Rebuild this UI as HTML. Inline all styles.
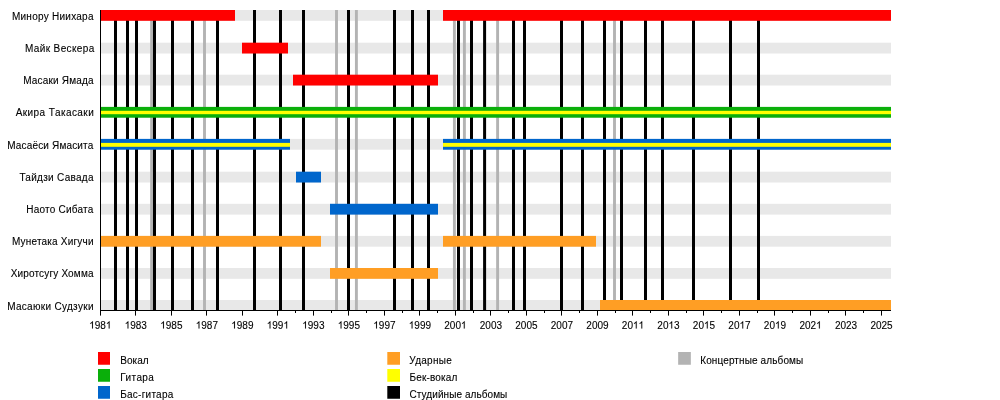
<!DOCTYPE html><html><head><meta charset="utf-8"><style>html,body{margin:0;padding:0;background:#fff}svg{display:block;will-change:transform;transform:translateZ(0)}text{font-family:"Liberation Sans",sans-serif;font-size:10px;fill:#000;stroke:#000;stroke-width:0.1px}</style></head><body>
<svg width="1000" height="400" viewBox="0 0 1000 400">
<rect width="1000" height="400" fill="#fff"/>
<rect x="100" y="10" width="791" height="10.8" fill="#e8e8e8"/>
<rect x="100" y="42.7" width="791" height="10.8" fill="#e8e8e8"/>
<rect x="100" y="74.7" width="791" height="10.8" fill="#e8e8e8"/>
<rect x="100" y="106.9" width="791" height="10.8" fill="#e8e8e8"/>
<rect x="100" y="138.9" width="791" height="10.8" fill="#e8e8e8"/>
<rect x="100" y="171.7" width="791" height="10.8" fill="#e8e8e8"/>
<rect x="100" y="203.8" width="791" height="10.8" fill="#e8e8e8"/>
<rect x="100" y="235.9" width="791" height="10.8" fill="#e8e8e8"/>
<rect x="100" y="268.0" width="791" height="10.8" fill="#e8e8e8"/>
<rect x="100" y="300" width="791" height="10" fill="#e8e8e8"/>
<rect x="150.15" y="10" width="2.9" height="300" fill="#b3b3b3"/>
<rect x="203.05" y="10" width="2.9" height="300" fill="#b3b3b3"/>
<rect x="335.05" y="10" width="2.9" height="300" fill="#b3b3b3"/>
<rect x="354.95" y="10" width="2.9" height="300" fill="#b3b3b3"/>
<rect x="452.95" y="10" width="2.9" height="300" fill="#b3b3b3"/>
<rect x="462.95" y="10" width="2.9" height="300" fill="#b3b3b3"/>
<rect x="496.15" y="10" width="2.9" height="300" fill="#b3b3b3"/>
<rect x="613.05" y="10" width="2.9" height="300" fill="#b3b3b3"/>
<rect x="114.00" y="10" width="3" height="300" fill="#000"/>
<rect x="126.00" y="10" width="3" height="300" fill="#000"/>
<rect x="135.00" y="10" width="3" height="300" fill="#000"/>
<rect x="153.00" y="10" width="3" height="300" fill="#000"/>
<rect x="171.00" y="10" width="3" height="300" fill="#000"/>
<rect x="191.00" y="10" width="3" height="300" fill="#000"/>
<rect x="216.00" y="10" width="3" height="300" fill="#000"/>
<rect x="253.00" y="10" width="3" height="300" fill="#000"/>
<rect x="279.00" y="10" width="3" height="300" fill="#000"/>
<rect x="302.00" y="10" width="3" height="300" fill="#000"/>
<rect x="347.00" y="10" width="3" height="300" fill="#000"/>
<rect x="393.00" y="10" width="3" height="300" fill="#000"/>
<rect x="411.00" y="10" width="3" height="300" fill="#000"/>
<rect x="427.00" y="10" width="3" height="300" fill="#000"/>
<rect x="457.00" y="10" width="3" height="300" fill="#000"/>
<rect x="470.00" y="10" width="3" height="300" fill="#000"/>
<rect x="483.10" y="10" width="3" height="300" fill="#000"/>
<rect x="512.00" y="10" width="3" height="300" fill="#000"/>
<rect x="523.00" y="10" width="3" height="300" fill="#000"/>
<rect x="560.00" y="10" width="3" height="300" fill="#000"/>
<rect x="581.00" y="10" width="3" height="300" fill="#000"/>
<rect x="603.00" y="10" width="3" height="300" fill="#000"/>
<rect x="620.00" y="10" width="3" height="300" fill="#000"/>
<rect x="644.00" y="10" width="3" height="300" fill="#000"/>
<rect x="661.00" y="10" width="3" height="300" fill="#000"/>
<rect x="692.00" y="10" width="3" height="300" fill="#000"/>
<rect x="729.00" y="10" width="3" height="300" fill="#000"/>
<rect x="757.00" y="10" width="3" height="300" fill="#000"/>
<rect x="100" y="10" width="135" height="10.8" fill="#ff0000"/>
<rect x="443" y="10" width="448" height="10.8" fill="#ff0000"/>
<rect x="242" y="42.7" width="46" height="10.8" fill="#ff0000"/>
<rect x="293" y="74.7" width="145" height="10.8" fill="#ff0000"/>
<rect x="100" y="106.9" width="791" height="10.8" fill="#0aaf0a"/>
<rect x="100" y="138.9" width="190" height="10.8" fill="#0066cc"/>
<rect x="443" y="138.9" width="448" height="10.8" fill="#0066cc"/>
<rect x="296" y="171.7" width="25" height="10.8" fill="#0066cc"/>
<rect x="330" y="203.8" width="108" height="10.8" fill="#0066cc"/>
<rect x="100" y="235.9" width="221" height="10.8" fill="#ff9e24"/>
<rect x="443" y="235.9" width="153" height="10.8" fill="#ff9e24"/>
<rect x="330" y="268.0" width="108" height="10.8" fill="#ff9e24"/>
<rect x="600" y="300" width="291" height="10" fill="#ff9e24"/>
<rect x="100" y="110.8" width="791" height="3.4" fill="#ffff00"/>
<rect x="100" y="142.9" width="190" height="3.9" fill="#ffff00"/>
<rect x="443" y="142.9" width="448" height="3.9" fill="#ffff00"/>
<rect x="100" y="10" width="1" height="301" fill="#000"/>
<rect x="100" y="310" width="791" height="1" fill="#000"/>
<rect x="100" y="310" width="1" height="5.6" fill="#000"/>
<path transform="translate(89.18,328.5) scale(0.0048828,-0.0048828)" d="M763 0H583V1147Q518 1085 412.5 1023T223 930V1104Q373 1174.5 485.5 1275T644 1470H763Z" fill="#000" stroke="#000" stroke-width="20"/>
<text x="94.74" y="328.5">9</text>
<text x="100.30" y="328.5">8</text>
<path transform="translate(105.86,328.5) scale(0.0048828,-0.0048828)" d="M763 0H583V1147Q518 1085 412.5 1023T223 930V1104Q373 1174.5 485.5 1275T644 1470H763Z" fill="#000" stroke="#000" stroke-width="20"/>
<rect x="135" y="310" width="1" height="5.6" fill="#000"/>
<path transform="translate(124.69,328.5) scale(0.0048828,-0.0048828)" d="M763 0H583V1147Q518 1085 412.5 1023T223 930V1104Q373 1174.5 485.5 1275T644 1470H763Z" fill="#000" stroke="#000" stroke-width="20"/>
<text x="130.25" y="328.5">9</text>
<text x="135.81" y="328.5">8</text>
<text x="141.37" y="328.5">3</text>
<rect x="171" y="310" width="1" height="5.6" fill="#000"/>
<path transform="translate(160.20,328.5) scale(0.0048828,-0.0048828)" d="M763 0H583V1147Q518 1085 412.5 1023T223 930V1104Q373 1174.5 485.5 1275T644 1470H763Z" fill="#000" stroke="#000" stroke-width="20"/>
<text x="165.76" y="328.5">9</text>
<text x="171.32" y="328.5">8</text>
<text x="176.88" y="328.5">5</text>
<rect x="206" y="310" width="1" height="5.6" fill="#000"/>
<path transform="translate(195.71,328.5) scale(0.0048828,-0.0048828)" d="M763 0H583V1147Q518 1085 412.5 1023T223 930V1104Q373 1174.5 485.5 1275T644 1470H763Z" fill="#000" stroke="#000" stroke-width="20"/>
<text x="201.27" y="328.5">9</text>
<text x="206.83" y="328.5">8</text>
<text x="212.39" y="328.5">7</text>
<rect x="242" y="310" width="1" height="5.6" fill="#000"/>
<path transform="translate(231.22,328.5) scale(0.0048828,-0.0048828)" d="M763 0H583V1147Q518 1085 412.5 1023T223 930V1104Q373 1174.5 485.5 1275T644 1470H763Z" fill="#000" stroke="#000" stroke-width="20"/>
<text x="236.78" y="328.5">9</text>
<text x="242.34" y="328.5">8</text>
<text x="247.90" y="328.5">9</text>
<rect x="277" y="310" width="1" height="5.6" fill="#000"/>
<path transform="translate(266.73,328.5) scale(0.0048828,-0.0048828)" d="M763 0H583V1147Q518 1085 412.5 1023T223 930V1104Q373 1174.5 485.5 1275T644 1470H763Z" fill="#000" stroke="#000" stroke-width="20"/>
<text x="272.29" y="328.5">9</text>
<text x="277.85" y="328.5">9</text>
<path transform="translate(283.41,328.5) scale(0.0048828,-0.0048828)" d="M763 0H583V1147Q518 1085 412.5 1023T223 930V1104Q373 1174.5 485.5 1275T644 1470H763Z" fill="#000" stroke="#000" stroke-width="20"/>
<rect x="295" y="310" width="1" height="3" fill="#000"/>
<rect x="313" y="310" width="1" height="5.6" fill="#000"/>
<path transform="translate(302.24,328.5) scale(0.0048828,-0.0048828)" d="M763 0H583V1147Q518 1085 412.5 1023T223 930V1104Q373 1174.5 485.5 1275T644 1470H763Z" fill="#000" stroke="#000" stroke-width="20"/>
<text x="307.80" y="328.5">9</text>
<text x="313.36" y="328.5">9</text>
<text x="318.92" y="328.5">3</text>
<rect x="331" y="310" width="1" height="3" fill="#000"/>
<rect x="348" y="310" width="1" height="5.6" fill="#000"/>
<path transform="translate(337.75,328.5) scale(0.0048828,-0.0048828)" d="M763 0H583V1147Q518 1085 412.5 1023T223 930V1104Q373 1174.5 485.5 1275T644 1470H763Z" fill="#000" stroke="#000" stroke-width="20"/>
<text x="343.31" y="328.5">9</text>
<text x="348.87" y="328.5">9</text>
<text x="354.43" y="328.5">5</text>
<rect x="366" y="310" width="1" height="3" fill="#000"/>
<rect x="384" y="310" width="1" height="5.6" fill="#000"/>
<path transform="translate(373.26,328.5) scale(0.0048828,-0.0048828)" d="M763 0H583V1147Q518 1085 412.5 1023T223 930V1104Q373 1174.5 485.5 1275T644 1470H763Z" fill="#000" stroke="#000" stroke-width="20"/>
<text x="378.82" y="328.5">9</text>
<text x="384.38" y="328.5">9</text>
<text x="389.94" y="328.5">7</text>
<rect x="402" y="310" width="1" height="3" fill="#000"/>
<rect x="419" y="310" width="1" height="5.6" fill="#000"/>
<path transform="translate(408.77,328.5) scale(0.0048828,-0.0048828)" d="M763 0H583V1147Q518 1085 412.5 1023T223 930V1104Q373 1174.5 485.5 1275T644 1470H763Z" fill="#000" stroke="#000" stroke-width="20"/>
<text x="414.33" y="328.5">9</text>
<text x="419.89" y="328.5">9</text>
<text x="425.45" y="328.5">9</text>
<rect x="437" y="310" width="1" height="3" fill="#000"/>
<rect x="455" y="310" width="1" height="5.6" fill="#000"/>
<text x="444.28" y="328.5">2</text>
<text x="449.84" y="328.5">0</text>
<text x="455.40" y="328.5">0</text>
<path transform="translate(460.96,328.5) scale(0.0048828,-0.0048828)" d="M763 0H583V1147Q518 1085 412.5 1023T223 930V1104Q373 1174.5 485.5 1275T644 1470H763Z" fill="#000" stroke="#000" stroke-width="20"/>
<rect x="473" y="310" width="1" height="3" fill="#000"/>
<rect x="490" y="310" width="1" height="5.6" fill="#000"/>
<text x="479.79" y="328.5">2</text>
<text x="485.35" y="328.5">0</text>
<text x="490.91" y="328.5">0</text>
<text x="496.47" y="328.5">3</text>
<rect x="508" y="310" width="1" height="3" fill="#000"/>
<rect x="526" y="310" width="1" height="5.6" fill="#000"/>
<text x="515.30" y="328.5">2</text>
<text x="520.86" y="328.5">0</text>
<text x="526.42" y="328.5">0</text>
<text x="531.98" y="328.5">5</text>
<rect x="544" y="310" width="1" height="3" fill="#000"/>
<rect x="561" y="310" width="1" height="5.6" fill="#000"/>
<text x="550.81" y="328.5">2</text>
<text x="556.37" y="328.5">0</text>
<text x="561.93" y="328.5">0</text>
<text x="567.49" y="328.5">7</text>
<rect x="579" y="310" width="1" height="3" fill="#000"/>
<rect x="597" y="310" width="1" height="5.6" fill="#000"/>
<text x="586.32" y="328.5">2</text>
<text x="591.88" y="328.5">0</text>
<text x="597.44" y="328.5">0</text>
<text x="603.00" y="328.5">9</text>
<rect x="615" y="310" width="1" height="3" fill="#000"/>
<rect x="632" y="310" width="1" height="5.6" fill="#000"/>
<text x="621.83" y="328.5">2</text>
<text x="627.39" y="328.5">0</text>
<path transform="translate(632.95,328.5) scale(0.0048828,-0.0048828)" d="M763 0H583V1147Q518 1085 412.5 1023T223 930V1104Q373 1174.5 485.5 1275T644 1470H763Z" fill="#000" stroke="#000" stroke-width="20"/>
<path transform="translate(638.51,328.5) scale(0.0048828,-0.0048828)" d="M763 0H583V1147Q518 1085 412.5 1023T223 930V1104Q373 1174.5 485.5 1275T644 1470H763Z" fill="#000" stroke="#000" stroke-width="20"/>
<rect x="650" y="310" width="1" height="3" fill="#000"/>
<rect x="668" y="310" width="1" height="5.6" fill="#000"/>
<text x="657.34" y="328.5">2</text>
<text x="662.90" y="328.5">0</text>
<path transform="translate(668.46,328.5) scale(0.0048828,-0.0048828)" d="M763 0H583V1147Q518 1085 412.5 1023T223 930V1104Q373 1174.5 485.5 1275T644 1470H763Z" fill="#000" stroke="#000" stroke-width="20"/>
<text x="674.02" y="328.5">3</text>
<rect x="686" y="310" width="1" height="3" fill="#000"/>
<rect x="703" y="310" width="1" height="5.6" fill="#000"/>
<text x="692.85" y="328.5">2</text>
<text x="698.41" y="328.5">0</text>
<path transform="translate(703.97,328.5) scale(0.0048828,-0.0048828)" d="M763 0H583V1147Q518 1085 412.5 1023T223 930V1104Q373 1174.5 485.5 1275T644 1470H763Z" fill="#000" stroke="#000" stroke-width="20"/>
<text x="709.53" y="328.5">5</text>
<rect x="721" y="310" width="1" height="3" fill="#000"/>
<rect x="739" y="310" width="1" height="5.6" fill="#000"/>
<text x="728.36" y="328.5">2</text>
<text x="733.92" y="328.5">0</text>
<path transform="translate(739.48,328.5) scale(0.0048828,-0.0048828)" d="M763 0H583V1147Q518 1085 412.5 1023T223 930V1104Q373 1174.5 485.5 1275T644 1470H763Z" fill="#000" stroke="#000" stroke-width="20"/>
<text x="745.04" y="328.5">7</text>
<rect x="757" y="310" width="1" height="3" fill="#000"/>
<rect x="774" y="310" width="1" height="5.6" fill="#000"/>
<text x="763.87" y="328.5">2</text>
<text x="769.43" y="328.5">0</text>
<path transform="translate(774.99,328.5) scale(0.0048828,-0.0048828)" d="M763 0H583V1147Q518 1085 412.5 1023T223 930V1104Q373 1174.5 485.5 1275T644 1470H763Z" fill="#000" stroke="#000" stroke-width="20"/>
<text x="780.55" y="328.5">9</text>
<rect x="792" y="310" width="1" height="3" fill="#000"/>
<rect x="810" y="310" width="1" height="5.6" fill="#000"/>
<text x="799.38" y="328.5">2</text>
<text x="804.94" y="328.5">0</text>
<text x="810.50" y="328.5">2</text>
<path transform="translate(816.06,328.5) scale(0.0048828,-0.0048828)" d="M763 0H583V1147Q518 1085 412.5 1023T223 930V1104Q373 1174.5 485.5 1275T644 1470H763Z" fill="#000" stroke="#000" stroke-width="20"/>
<rect x="828" y="310" width="1" height="3" fill="#000"/>
<rect x="845" y="310" width="1" height="5.6" fill="#000"/>
<text x="834.89" y="328.5">2</text>
<text x="840.45" y="328.5">0</text>
<text x="846.01" y="328.5">2</text>
<text x="851.57" y="328.5">3</text>
<rect x="863" y="310" width="1" height="3" fill="#000"/>
<rect x="881" y="310" width="1" height="5.6" fill="#000"/>
<text x="870.40" y="328.5">2</text>
<text x="875.96" y="328.5">0</text>
<text x="881.52" y="328.5">2</text>
<text x="887.08" y="328.5">5</text>
<text x="11.9" y="20" textLength="81.60" lengthAdjust="spacing">Минору Ниихара</text>
<text x="25.0" y="52" textLength="69.20" lengthAdjust="spacing">Майк Вескера</text>
<text x="23.15" y="84" textLength="70.35" lengthAdjust="spacing">Масаки Ямада</text>
<text x="15.65" y="116" textLength="78.10" lengthAdjust="spacing">Акира Такасаки</text>
<text x="7.15" y="149" textLength="86.15" lengthAdjust="spacing">Масаёси Ямасита</text>
<text x="19.4" y="181" textLength="74.10" lengthAdjust="spacing">Тайдзи Савада</text>
<text x="26.299999999999997" y="213" textLength="67.00" lengthAdjust="spacing">Наото Сибата</text>
<text x="11.9" y="245" textLength="81.60" lengthAdjust="spacing">Мунетака Хигучи</text>
<text x="10.65" y="277" textLength="82.85" lengthAdjust="spacing">Хиротсугу Хомма</text>
<text x="7.15" y="310" textLength="86.35" lengthAdjust="spacing">Масаюки Судзуки</text>
<rect x="98" y="352" width="12" height="12.75" fill="#ff0000"/>
<text x="120.20" y="364" textLength="28.50" lengthAdjust="spacing">Вокал</text>
<rect x="98" y="369" width="12" height="12.75" fill="#0aaf0a"/>
<text x="120.20" y="381" textLength="33.70" lengthAdjust="spacing">Гитара</text>
<rect x="98" y="386" width="12" height="12.75" fill="#0066cc"/>
<text x="120.20" y="398" textLength="53.10" lengthAdjust="spacing">Бас-гитара</text>
<rect x="387.3" y="352" width="12.7" height="12.75" fill="#ff9e24"/>
<text x="409.30" y="364" textLength="42.40" lengthAdjust="spacing">Ударные</text>
<rect x="387.3" y="369" width="12.7" height="12.75" fill="#ffff00"/>
<text x="409.60" y="381" textLength="47.70" lengthAdjust="spacing">Бек-вокал</text>
<rect x="387.3" y="386" width="12.7" height="12.75" fill="#000"/>
<text x="409.50" y="398" textLength="97.80" lengthAdjust="spacing">Студийные альбомы</text>
<rect x="678.15" y="352" width="12.7" height="12.75" fill="#b3b3b3"/>
<text x="700.20" y="364" textLength="103.10" lengthAdjust="spacing">Концертные альбомы</text>
</svg></body></html>
